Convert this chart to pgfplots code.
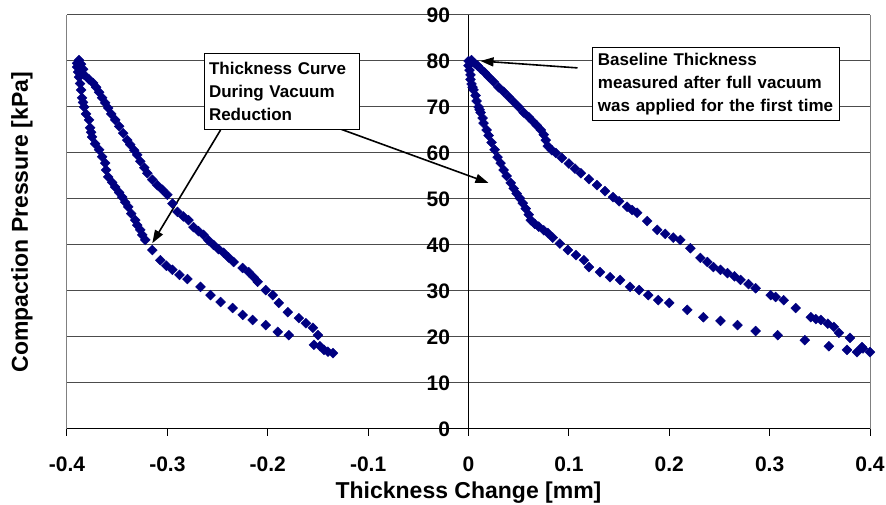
\documentclass[border=0pt]{standalone}
\usepackage{pgfplots}
\pgfplotsset{compat=1.18}
\usepackage{fontspec}
\setmainfont{Liberation Sans}
\usetikzlibrary{arrows.meta}
\definecolor{navy}{RGB}{0,0,128}
\pgfplotsset{dat/.style={only marks, mark=square*, mark size=3.5bp, mark options={rotate=45, fill=navy, draw=navy}}}
\begin{document}
\begin{tikzpicture}
\begin{axis}[
  scale only axis, width=803bp, height=414bp,
  xmin=-0.4, xmax=0.4, ymin=0, ymax=90,
  axis x line*=bottom, axis y line*=middle,
  axis line style={black, line width=1bp, -},
  xtick={-0.4,-0.3,-0.2,-0.1,0,0.1,0.2,0.3,0.4},
  ytick={0,10,20,30,40,50,60,70,80,90},
  hide obscured x ticks=false, hide obscured y ticks=false,
  /pgf/number format/assume math mode=true,
  x tick label style={font=\fontsize{21bp}{24bp}\selectfont\bfseries, anchor=north, yshift=-17bp},
  y tick label style={font=\fontsize{21bp}{24bp}\selectfont\bfseries, anchor=east, xshift=-15bp},
  xtick align=outside, major tick length=7bp,
  xtick style={black, line width=1bp},
  ytick style={draw=none},
  ymajorgrids, major grid style={black!70, line width=1bp},
  xlabel={Thickness Change [mm]},
  ylabel={Compaction Pressure [kPa]},
  every axis x label/.style={at={(rel axis cs:0.5,0)}, yshift=-64bp, anchor=center, font=\fontsize{23bp}{26bp}\selectfont\bfseries},
  every axis y label/.style={at={(rel axis cs:0,0.5)}, xshift=-45bp, rotate=90, anchor=center, font=\fontsize{23bp}{26bp}\selectfont\bfseries},
  clip=false,
]
\draw[black!50, line width=1bp] (axis cs:-0.4,0) -- (axis cs:-0.4,90);
\draw[black!50, line width=1bp] (axis cs:0.4,0) -- (axis cs:0.4,90);
% right loop, upper branch
\addplot[dat] coordinates {
(0.000,80.0)(0.003,80.2)(0.006,79.5)(0.009,79.0)(0.012,78.3)(0.016,77.5)(0.020,76.6)(0.025,75.5)(0.030,74.3)(0.035,73.3)(0.040,72.2)(0.045,71.1)(0.050,70.0)(0.055,68.8)(0.060,67.8)(0.064,66.9)(0.068,66.0)(0.072,65.0)(0.075,64.0)(0.077,62.8)(0.079,61.5)(0.083,60.6)(0.087,60.0)(0.093,58.9)(0.100,57.7)(0.106,56.6)(0.112,55.6)(0.120,54.3)(0.128,53.0)(0.136,51.7)(0.144,50.4)(0.150,49.5)(0.158,48.3)(0.163,47.6)(0.168,47.0)(0.178,45.2)(0.188,43.3)(0.196,42.4)(0.204,41.6)(0.211,41.1)(0.221,39.3)(0.231,37.2)(0.238,36.3)(0.244,35.2)(0.251,34.6)(0.258,33.9)(0.265,33.2)(0.271,32.4)(0.279,31.5)(0.286,30.6)(0.301,29.1)(0.306,28.7)(0.314,28.0)(0.326,26.3)(0.341,24.3)(0.346,23.9)(0.351,23.7)(0.358,22.9)(0.364,22.2)(0.369,20.9)(0.380,19.8)(0.392,17.8)(0.400,16.7)
};
% right loop, lower branch
\addplot[dat] coordinates {
(0.000,79.0)(0.001,78.0)(0.002,77.0)(0.002,76.0)(0.003,75.0)(0.004,74.3)(0.005,73.7)(0.007,72.5)(0.008,71.3)(0.010,70.0)(0.011,69.4)(0.012,68.8)(0.014,67.6)(0.015,66.5)(0.018,65.0)(0.020,63.8)(0.023,62.3)(0.026,60.7)(0.029,59.1)(0.032,57.8)(0.035,56.3)(0.038,55.0)(0.042,53.5)(0.045,52.3)(0.048,51.2)(0.051,50.2)(0.054,49.1)(0.057,47.9)(0.060,46.6)(0.062,45.4)(0.066,44.6)(0.070,44.0)(0.075,43.2)(0.079,42.6)(0.084,41.6)(0.091,40.3)(0.099,38.9)(0.107,37.8)(0.115,36.7)(0.120,35.2)(0.131,34.1)(0.141,33.0)(0.151,32.4)(0.161,30.9)(0.170,30.2)(0.179,29.1)(0.189,28.0)(0.200,27.4)(0.218,25.9)(0.234,24.3)(0.251,23.5)(0.268,22.6)(0.286,21.3)(0.308,20.4)(0.335,19.3)(0.359,18.0)(0.377,17.2)(0.387,16.7)(0.393,17.5)
};
% left loop, upper branch
\addplot[dat] coordinates {
(-0.388,80.2)(-0.386,79.3)(-0.384,78.2)(-0.383,77.0)(-0.378,76.0)(-0.374,75.2)(-0.371,74.3)(-0.368,73.2)(-0.365,72.0)(-0.362,70.9)(-0.359,69.8)(-0.356,68.5)(-0.352,67.2)(-0.348,65.8)(-0.344,64.3)(-0.340,62.8)(-0.337,61.8)(-0.333,60.6)(-0.330,59.6)(-0.327,58.2)(-0.323,56.8)(-0.320,55.6)(-0.315,54.2)(-0.310,53.0)(-0.305,52.0)(-0.300,50.9)(-0.295,49.0)(-0.290,47.2)(-0.284,46.2)(-0.279,45.4)(-0.274,43.9)(-0.269,43.0)(-0.264,42.2)(-0.259,41.0)(-0.254,40.0)(-0.249,39.1)(-0.244,38.3)(-0.239,37.3)(-0.234,36.3)(-0.225,35.0)(-0.219,34.1)(-0.214,33.0)(-0.210,32.0)(-0.202,30.2)(-0.195,29.1)(-0.189,27.4)(-0.180,25.4)(-0.169,24.1)(-0.162,23.0)(-0.155,22.0)(-0.150,20.4)(-0.154,18.3)(-0.148,18.0)(-0.144,17.2)(-0.140,16.8)(-0.135,16.5)
};
% left loop, lower branch
\addplot[dat] coordinates {
(-0.390,79.5)(-0.390,78.7)(-0.389,77.6)(-0.388,76.5)(-0.387,75.1)(-0.386,73.7)(-0.385,72.0)(-0.384,71.0)(-0.383,70.0)(-0.381,68.5)(-0.378,67.2)(-0.377,65.5)(-0.376,64.5)(-0.375,63.5)(-0.372,62.0)(-0.368,60.7)(-0.365,59.2)(-0.362,57.8)(-0.361,56.3)(-0.359,54.8)(-0.355,53.6)(-0.352,52.6)(-0.348,51.4)(-0.345,50.4)(-0.342,49.3)(-0.339,48.3)(-0.336,46.8)(-0.332,45.4)(-0.330,44.3)(-0.327,43.3)(-0.325,42.2)(-0.322,41.1)(-0.315,38.9)(-0.307,36.7)(-0.301,35.5)(-0.295,34.6)(-0.288,33.5)(-0.280,32.6)(-0.267,30.9)(-0.257,29.1)(-0.247,27.6)(-0.235,26.3)(-0.225,24.8)(-0.215,23.7)(-0.202,22.6)(-0.190,21.1)(-0.179,20.4)
};
% annotations
\draw[line width=1.6bp, -{Triangle[length=13bp,width=9bp]}] (axis cs:-0.247,65.0) -- (axis cs:-0.315,40.4);
\draw[line width=1.6bp, -{Triangle[length=13bp,width=9bp]}] (axis cs:-0.1325,65.6) -- (axis cs:0.0199,53.5);
\draw[line width=1.6bp, -{Triangle[length=13bp,width=9bp]}] (axis cs:0.1086,78.5) -- (axis cs:0.012,80.0);
\node[draw=black, line width=1bp, fill=white, anchor=north west, inner xsep=5bp, inner ysep=0bp,
      text width=145bp, minimum height=76bp, align=left,
      font=\fontsize{17bp}{23bp}\selectfont\bfseries] at (axis cs:-0.264,81.7)
      {Thickness Curve\\During Vacuum\\Reduction};
\node[draw=black, line width=1bp, fill=white, anchor=north west, inner xsep=5bp, inner ysep=0bp,
      text width=237bp, minimum height=73bp, align=left,
      font=\fontsize{17bp}{23bp}\selectfont\bfseries] at (axis cs:0.1235,83.0)
      {Baseline Thickness\\measured after full vacuum\\was applied for the first time};
\end{axis}
\pgfresetboundingbox
\path[use as bounding box] ([xshift=-67bp,yshift=-76bp]current axis.south west) rectangle ([xshift=16bp,yshift=15bp]current axis.north east);
\end{tikzpicture}
\end{document}
